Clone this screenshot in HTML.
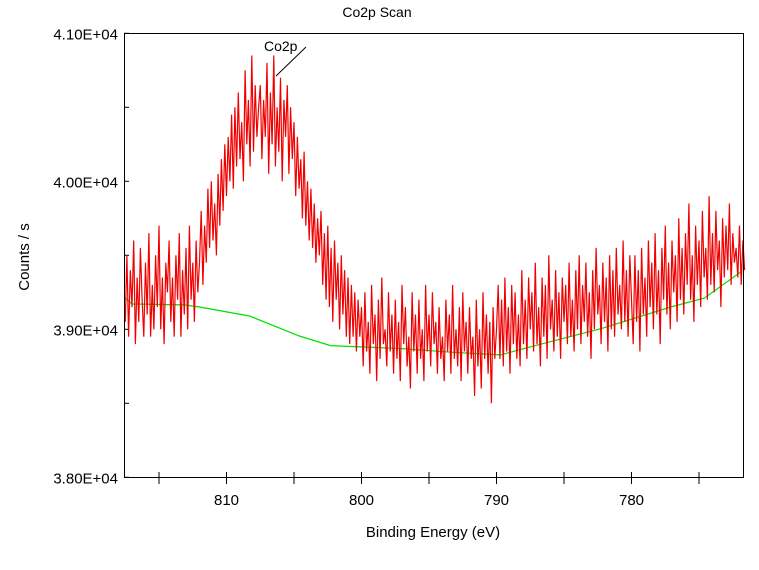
<!DOCTYPE html>
<html><head><meta charset="utf-8"><style>
html,body{margin:0;padding:0;background:#fff;}
svg{display:block;font-family:"Liberation Sans",Arial,sans-serif;}
</style></head><body>
<svg id="chart" width="759" height="570" viewBox="0 0 759 570" xmlns="http://www.w3.org/2000/svg">
<text x="377" y="17" font-size="14" text-anchor="middle" fill="#000">Co2p Scan</text>
<text x="0" y="0" font-size="15" text-anchor="middle" fill="#000" transform="translate(29,257) rotate(-90)">Counts / s</text>
<text x="433" y="537" font-size="15" text-anchor="middle" fill="#000">Binding Energy (eV)</text>
<g id="grid"></g>
<g id="series"></g>
<rect x="124.5" y="33.5" width="619" height="444" fill="none" stroke="#000" stroke-width="1"/>
<line x1="276" y1="76" x2="306" y2="47" stroke="#000" stroke-width="1"/>
<text x="264" y="51" font-size="14" fill="#000">Co2p</text>
</svg>
<script>
const xTicks=[810,800,790,780];
const xMinorTicks=[815,805,795,785,775];
const yTicks=[38000,39000,40000,41000];
const yTickLabels=["3.80E+04","3.90E+04","4.00E+04","4.10E+04"];
const yMinorTicks=[38500,39500,40500];
const eStart=817.5, eStep=0.125;
const counts=[
39050,39500,38950,39400,39150,39600,38900,39350,39050,39550,39200,38950,39450,39100,39650,38950,39300,39000,39500,39150,39700,39000,39350,38900,39450,39250,39600,39050,39350,38950,39500,39200,39650,38950,39400,39100,39550,39000,39700,39200,39450,39050,39600,39250,
39450,39800,39300,39700,39450,39950,39550,40000,39600,39850,39500,40050,39700,40150,39800,40250,39900,40300,
40000,40450,39950,40500,40100,40600,40150,40400,40000,40750,40250,40550,40100,40850,40200,40650,40300,40500,
40650,40150,40550,40300,40800,40050,40600,40250,40850,40100,40500,40200,40700,40000,40550,40300,40650,40050,40500,40150,
40400,39900,40300,39950,40150,39750,40200,39700,40000,39600,39950,39550,39850,39450,39750,39500,
39800,39300,39650,39200,39700,39150,39550,39050,39600,39200,39450,39000,39500,39100,39400,38950,39350,38900,39300,38950,39250,38850,39200,38950,
39150,38750,39250,38850,39050,38700,39300,38900,39100,38650,39200,38800,39350,38900,39000,38750,39250,38850,39100,38700,
39200,38800,39050,38650,39300,38900,39150,38750,38950,38600,39250,38850,39100,38700,39200,38800,39000,38650,39300,38850,
39100,38750,39250,38900,39050,38700,39150,38800,38950,38650,39200,38850,39100,38700,39300,38800,39000,38750,39150,38650,
39250,38850,39050,38700,39150,38800,38950,38550,39200,38750,39000,38600,39250,38800,39100,38700,39050,38500,39150,38800,
39000,39300,38800,39200,38750,39350,38850,39150,38700,39300,38900,39250,38800,39100,38750,39400,38900,39200,38800,39350,
39000,39250,38850,39450,38900,39150,38750,39350,38950,39300,38800,39500,39000,39200,38850,39400,38950,39250,38800,39350,
39050,39300,38900,39450,38950,39200,38850,39400,39000,39500,38900,39300,39050,39450,38950,39250,38800,39400,39000,39550,
39100,39300,38900,39450,39050,39350,38850,39500,39000,39400,38950,39550,39100,39300,39000,39600,39050,39400,38950,39500,
39200,38900,39500,39050,39400,38850,39550,39100,39350,38950,39600,39150,39450,39000,39650,39100,39400,38900,39550,39200,
39700,39100,39450,39000,39600,39250,39500,39050,39750,39200,39550,39100,39650,39300,39850,39200,39500,39050,39700,39300,
39600,39150,39800,39350,39550,39200,39900,39300,39650,39250,39800,39400,39600,39150,39750,39350,39700,39400,39850,39300,
39650,39450,39550,39350,39700,39300,39600,39400];
const bgEnergy=[817.6,817.0,813.1,812.0,808.3,804.6,802.3,800.1,797.1,793.4,789.7,786.8,782.2,777.1,774.6,771.9];
const bgCounts=[39220,39171,39165,39151,39090,38955,38890,38881,38870,38845,38827,38898,39006,39151,39211,39388];

const NS="http://www.w3.org/2000/svg";
const X=e=>226.5+(810-e)*13.5;
const Y=v=>477.3-(v-38000)*0.148;
const grid=document.getElementById('grid');
const series=document.getElementById('series');
function mk(tag,attrs,parent){const el=document.createElementNS(NS,tag);for(const k in attrs)el.setAttribute(k,attrs[k]);parent.appendChild(el);return el;}
xTicks.forEach(t=>{
  const l=mk('line',{x1:X(t),x2:X(t),y1:472,y2:484,stroke:'#000'},grid);
  
  
  const tx=mk('text',{x:X(t),y:505,'font-size':15,'text-anchor':'middle',fill:'#000'},grid);
  tx.textContent=t;
  
  
});
xMinorTicks.forEach(t=>{
  const l=mk('line',{x1:X(t),x2:X(t),y1:472,y2:484,stroke:'#000'},grid);
  
  
});
yTicks.forEach((t,i)=>{
  const l=mk('line',{x1:124,x2:129,y1:Y(t),y2:Y(t),stroke:'#000'},grid);
  
  
  const tx=mk('text',{x:118,y:Y(t)+6,'font-size':15,'text-anchor':'end',fill:'#000'},grid);
  tx.textContent=yTickLabels[i];
  
  
});
yMinorTicks.forEach(t=>{
  const l=mk('line',{x1:124,x2:129,y1:Y(t),y2:Y(t),stroke:'#000'},grid);
  
  
});
const bgPts=bgEnergy.map((e,i)=>X(e).toFixed(1)+','+Y(bgCounts[i]).toFixed(1)).join(' ');
const bg=mk('polyline',{points:bgPts,fill:'none',stroke:'#00e000','stroke-width':1.2},series);


const pts=counts.map((v,i)=>X(eStart-i*eStep).toFixed(1)+','+Y(v).toFixed(1)).join(' ');
const sp=mk('polyline',{points:pts,fill:'none',stroke:'#f00000','stroke-width':1.2},series);


</script>
</body></html>
